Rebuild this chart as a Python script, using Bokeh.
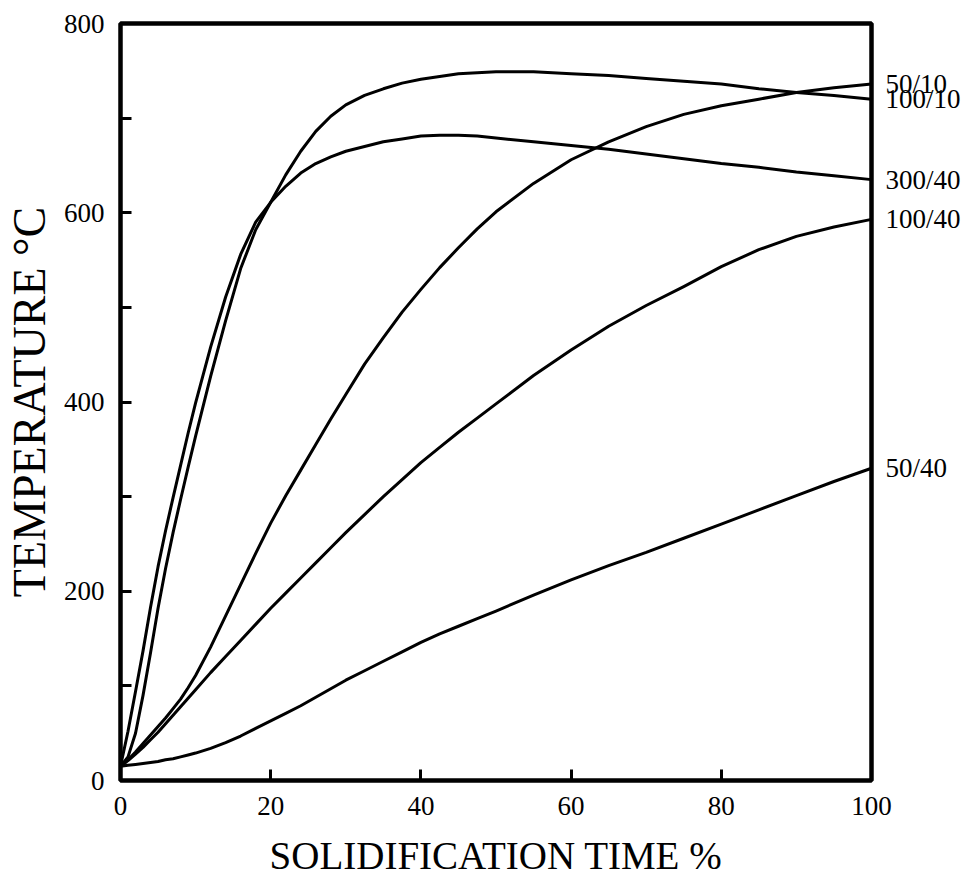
from bokeh.plotting import figure
from bokeh.models import LinearAxis, FixedTicker, Range1d
from bokeh.embed import file_html
from bokeh.resources import INLINE

# Solidification time (%) sample positions
time_pct = [0, 1, 2, 3, 4, 5, 6, 7, 8, 9, 10,
            12, 14, 16, 18, 20, 22, 24, 26, 28, 30,
            32.5, 35, 37.5, 40, 42.5, 45, 47.5, 50,
            55, 60, 65, 70, 75, 80, 85, 90, 95, 100]

# Temperature (°C) for each curve
t_300_40 = [15, 52, 94, 137, 183, 226, 264, 299, 333, 367, 399,
            458, 511, 556, 590, 611, 628, 642, 652, 659, 665,
            670, 675, 678, 681, 682, 682, 681, 679,
            675, 671, 667, 662, 657, 652, 648, 643, 639, 635]
t_100_10 = [15, 25, 50, 90, 135, 182, 224, 262, 297, 331, 364,
            427, 486, 541, 582, 611, 640, 665, 686, 702, 714,
            724, 731, 737, 741, 744, 747, 748, 749,
            749, 747, 745, 742, 739, 736, 731, 727, 724, 720]
t_50_10 = [15, 22, 30, 39, 48, 57, 66, 76, 86, 98, 111,
           141, 174, 207, 240, 272, 301, 328, 355, 382, 408,
           440, 468, 495, 519, 542, 563, 583, 601,
           631, 656, 675, 691, 704, 713, 720, 727, 732, 736]
t_100_40 = [15, 21, 28, 35, 43, 51, 60, 69, 78, 87, 96,
            114, 131, 148, 165, 182, 198, 214, 230, 246, 262,
            281, 300, 318, 336, 352, 368, 383, 398,
            428, 455, 480, 502, 522, 543, 561, 575, 585, 593]
t_50_40 = [15, 16, 17, 18, 19, 20, 22, 23, 25, 27, 29,
           34, 40, 47, 55, 63, 71, 79, 88, 97, 106,
           116, 126, 136, 146, 155, 163, 171, 179,
           196, 212, 227, 241, 256, 271, 286, 301, 316, 330]

series_names = ["50/10", "100/10", "300/40", "100/40", "50/40"]
series_values = [t_50_10, t_100_10, t_300_40, t_100_40, t_50_40]

x_ticks = [0, 20, 40, 60, 80, 100]
y_ticks = [0, 100, 200, 300, 400, 500, 600, 700, 800]
y_tick_labels = ["0", "", "200", "", "400", "", "600", "", "800"]

FONT = "Liberation Serif"

p = figure(width=970, height=888, x_range=Range1d(0, 100), y_range=Range1d(0, 800),
           output_backend="svg", toolbar_location=None,
           min_border_left=119, min_border_right=99, min_border_top=23, min_border_bottom=108)
p.background_fill_color = "white"
p.border_fill_color = "white"
p.grid.visible = False
p.outline_line_color = "black"
p.outline_line_width = 4.5

for vals in series_values:
    p.line(time_pct, vals, line_color="black", line_width=3, line_join="round")

xa = p.xaxis[0]
xa.ticker = FixedTicker(ticks=x_ticks)
xa.axis_label = "SOLIDIFICATION TIME %"
ya = p.yaxis[0]
ya.ticker = FixedTicker(ticks=y_ticks)
ya.major_label_overrides = {t: lab for t, lab in zip(y_ticks, y_tick_labels)}
ya.axis_label = "TEMPERATURE °C"

for ax in (xa, ya):
    ax.axis_line_color = None
    ax.major_tick_in = 11
    ax.major_tick_out = 0
    ax.major_tick_line_width = 3
    ax.major_tick_line_color = "black"
    ax.minor_tick_line_color = None
    ax.major_label_text_font = FONT
    ax.major_label_text_font_size = "27px"
    ax.major_label_text_color = "black"
    ax.axis_label_text_font = FONT
    ax.axis_label_text_font_style = "normal"
    ax.axis_label_text_color = "black"

xa.major_label_standoff = 16
xa.axis_label_text_font_size = "39px"
xa.axis_label_standoff = 16
ya.major_label_standoff = 16
ya.axis_label_text_font_size = "46px"
ya.axis_label_standoff = 6

# Curve labels at the right-hand ends
end_vals = [v[-1] for v in series_values]
ra = LinearAxis(ticker=FixedTicker(ticks=end_vals),
                major_label_overrides={ev: nm for ev, nm in zip(end_vals, series_names)})
ra.axis_line_color = None
ra.major_tick_line_color = None
ra.minor_tick_line_color = None
ra.major_tick_in = 0
ra.major_tick_out = 0
ra.major_label_standoff = 14
ra.major_label_text_font = FONT
ra.major_label_text_font_size = "27px"
ra.major_label_text_color = "black"
p.add_layout(ra, "right")

open("out.html", "w").write(file_html(p, INLINE))
